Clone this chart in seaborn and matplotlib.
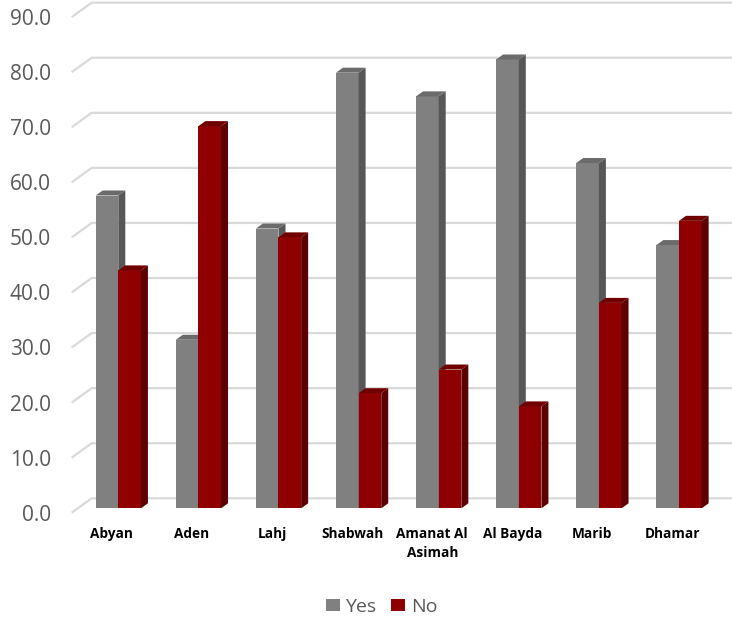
import matplotlib
matplotlib.use("Agg")
import matplotlib.pyplot as plt
from matplotlib.patches import Polygon
from matplotlib.transforms import ScaledTranslation
import pandas as pd
import seaborn as sns

# values (percent of respondents per governorate)
regions = ["Abyan", "Aden", "Lahj", "Shabwah", "Amanat Al\nAsimah", "Al Bayda", "Marib", "Dhamar"]
yes_pct = [56.8, 30.6, 50.8, 79.1, 74.8, 81.5, 62.7, 47.8]
no_pct = [43.2, 69.4, 49.2, 20.9, 25.2, 18.5, 37.3, 52.2]
series = ["Yes", "No"]
yticks = [0, 10, 20, 30, 40, 50, 60, 70, 80, 90]

front_col = {"Yes": "#808080", "No": "#8f0000"}
side_col = {"Yes": "#575757", "No": "#5c0000"}
top_col = {"Yes": "#6b6b6b", "No": "#700000"}

df = pd.DataFrame({
    "region": regions * 2,
    "pct": yes_pct + no_pct,
    "answer": ["Yes"] * len(regions) + ["No"] * len(regions),
})

sns.set_theme(style="white")
plt.rcParams["font.family"] = ["Open Sans", "DejaVu Sans"]

W, H = 732, 617
fig = plt.figure(figsize=(W / 100, H / 100), dpi=100)

# pixel geometry of the "3D" frame
px_cat = 80.1      # pixels per category
px_val = 5.507     # pixels per value unit
left_px, right_px = 71.7, 732.0
bottom_px, top_px = 512.7, 2.7
first_center_px = 118.3
bar_base_px = 508.3

ax = fig.add_axes([left_px / W, (H - bottom_px) / H,
                   (right_px - left_px) / W, (bottom_px - top_px) / H])

sns.barplot(data=df, x="region", y="pct", hue="answer", hue_order=series,
            palette=front_col, width=0.565, gap=0, saturation=1,
            linewidth=0, ax=ax)

xlo = (left_px - first_center_px) / px_cat
xhi = (right_px - first_center_px) / px_cat
ylo = (bar_base_px - bottom_px) / px_val
yhi = (bar_base_px - top_px) / px_val

# depth of the bars
dx = 7 / px_cat
dy = 5 / px_val
for k, (cont, name) in enumerate(zip(ax.containers, series)):
    z = 2 + k
    for p in cont:
        x0, w, h = p.get_x(), p.get_width(), p.get_height()
        p.set_zorder(z)
        side = Polygon([(x0 + w, 0), (x0 + w + dx, dy), (x0 + w + dx, h + dy), (x0 + w, h)],
                       closed=True, facecolor=side_col[name], edgecolor="none", zorder=z)
        top = Polygon([(x0, h), (x0 + dx, h + dy), (x0 + w + dx, h + dy), (x0 + w, h)],
                      closed=True, facecolor=top_col[name], edgecolor="none", zorder=z)
        ax.add_patch(side)
        ax.add_patch(top)

# back wall gridlines with the slanted side-wall piece
wall_dx = 20 / px_cat
wall_dy = (bar_base_px - 498.3) / px_val
for t in yticks:
    ax.plot([xlo, xlo + wall_dx, xhi], [t + ylo, t + wall_dy, t + wall_dy],
            color="#d9d9d9", lw=1.6, zorder=0, clip_on=False, solid_capstyle="butt")

ax.set_xlim(xlo, xhi)
ax.set_ylim(ylo, yhi)
for s in ax.spines.values():
    s.set_visible(False)
ax.grid(False)
ax.set_xlabel("")
ax.set_ylabel("")

ax.set_yticks([t + ylo for t in yticks], [f"{t:.1f}" for t in yticks])
ax.tick_params(axis="y", length=0, pad=15, labelsize=15, labelcolor="#595959")
ax.set_xticks(range(len(regions)), regions)
ax.tick_params(axis="x", length=0, pad=10.5, labelsize=9.8, labelcolor="black")
shift = ScaledTranslation(-6.5 / 100, 0, fig.dpi_scale_trans)
for lbl in ax.get_xticklabels():
    lbl.set_fontweight("bold")
    lbl.set_linespacing(1.4)
    lbl.set_transform(lbl.get_transform() + shift)

handles, labels = ax.get_legend_handles_labels()
if ax.get_legend() is not None:
    ax.get_legend().remove()
fig.legend(handles, labels, loc="center", bbox_to_anchor=(381.5 / W, 1 - 607 / H),
           ncol=2, frameon=False, fontsize=14, labelcolor="#595959",
           handlelength=0.72, handleheight=0.62, handletextpad=0.3,
           columnspacing=0.75, borderpad=0)

fig.savefig("out.png", dpi=100)
